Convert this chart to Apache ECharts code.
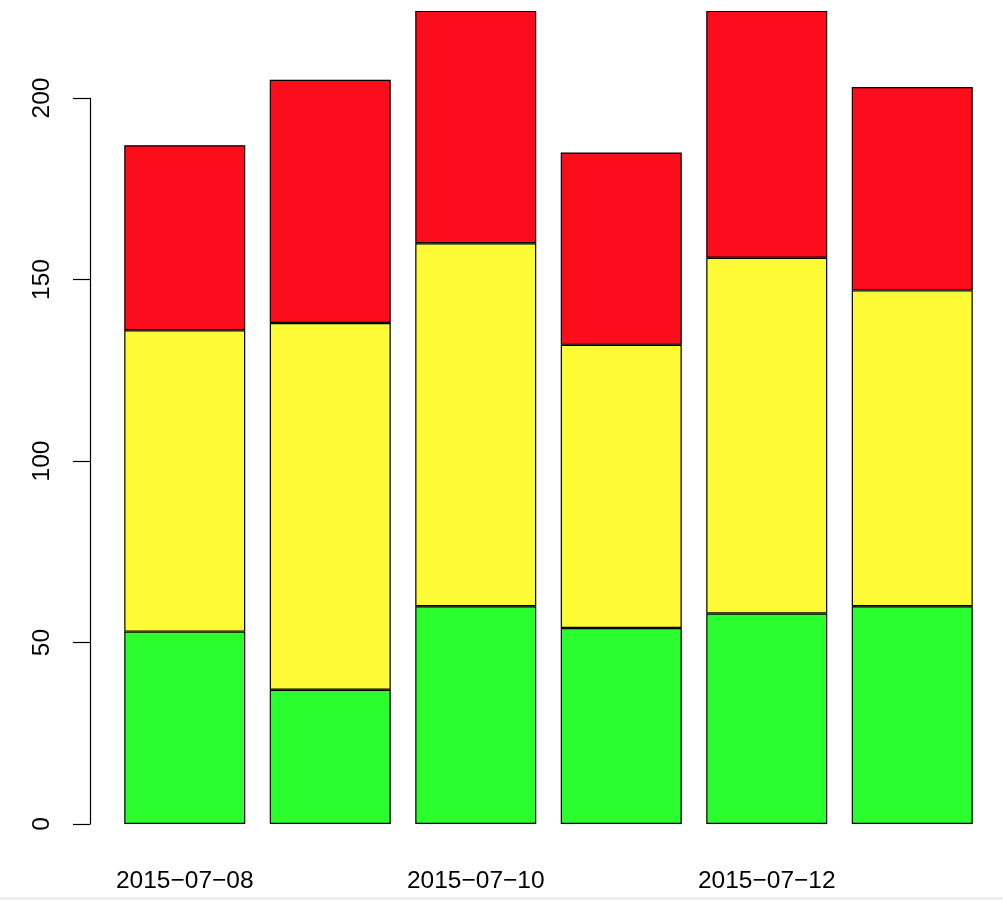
<!DOCTYPE html>
<html>
<head>
<meta charset="utf-8">
<script src="https://cdn.jsdelivr.net/npm/echarts@6/dist/echarts.min.js"></script>
<style>html,body{margin:0;padding:0;background:#fff}#c{width:1003px;height:900px}</style>
</head>
<body>
<div id="c"></div>
<script>
const categories = ['2015−07−08', '2015−07−09', '2015−07−10', '2015−07−11', '2015−07−12', '2015−07−13'];
const greenValues = [53, 37, 60, 54, 58, 60];
const yellowValues = [83, 101, 100, 78, 98, 87];
const redValues = [51, 67, 64, 53, 68, 56];
const yTicks = [0, 50, 100, 150, 200];

const font = '"Liberation Sans", Arial, Helvetica, sans-serif';
const chart = echarts.init(document.getElementById('c'), null, {renderer: 'canvas'});
function mk(name, data, color) {
  return {
    name: name, type: 'bar', stack: 'total', data: data, barWidth: 121,
    clip: false,
    itemStyle: {color: color, borderColor: '#000', borderWidth: 1.2},
    emphasis: {disabled: true}
  };
}
chart.setOption({
  animation: false,
  backgroundColor: '#fff',
  grid: {left: 112, right: 18, top: 98, bottom: 76},
  xAxis: {
    type: 'category', data: categories,
    axisLine: {show: false}, axisTick: {show: false},
    axisLabel: {interval: 1, margin: 45, fontSize: 24.5, color: '#000', fontFamily: font}
  },
  yAxis: {
    type: 'value', min: yTicks[0], max: yTicks[yTicks.length - 1], interval: 50,
    offset: 22,
    splitLine: {show: false},
    axisLine: {show: true, lineStyle: {color: '#000', width: 1.2}},
    axisTick: {show: true, length: 17, lineStyle: {color: '#000', width: 1.2}},
    axisLabel: {rotate: 90, margin: 35, fontSize: 24.5, color: '#000', fontFamily: font}
  },
  graphic: [{type: 'rect', left: 0, top: 897, shape: {width: 1003, height: 3}, style: {fill: '#eeeeee'}, silent: true}],
  series: [
    mk('green', greenValues, '#2BFE2F'),
    mk('yellow', yellowValues, '#FEFB36'),
    mk('red', redValues, '#FB0D1C')
  ]
});
</script>
</body>
</html>
